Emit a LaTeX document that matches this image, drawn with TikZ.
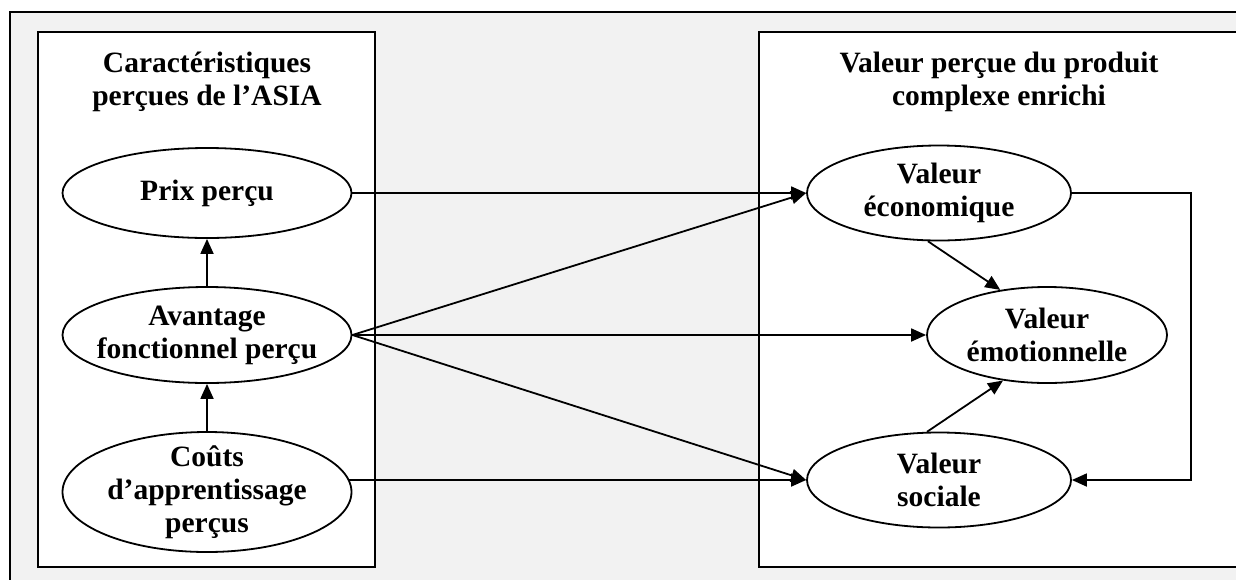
\documentclass[tikz,border=0pt]{standalone}
\usepackage{fontspec}
\setmainfont{Liberation Serif}
\usetikzlibrary{arrows.meta,shapes.geometric}
\definecolor{fond}{HTML}{F2F2F2}

\begin{document}
\begin{tikzpicture}[
    x=1pt, y=-1pt,
    txt/.style={font=\fontsize{29.5}{33}\selectfont\bfseries},
    bulle/.style={txt, draw, ellipse, line width=1.8pt, fill=white, align=center, inner xsep=-40pt, inner ysep=-20pt},
    titre/.style={txt, align=center, inner sep=0pt},
    cadre/.style={draw, line width=2.6pt, fill=white},
    fleche/.style={-{Triangle[length=15pt,width=13pt]}, line width=1.8pt}
]
\clip (0,0) rectangle (1236,579);
\fill[white] (0,0) rectangle (1236,579);
\draw[line width=2.6pt, fill=fond] (10,12) rectangle (1260,600);
\draw[cadre] (38,32) rectangle (375,567);
\draw[cadre] (759,32) rectangle (1260,567);

\node[titre] (titreA) at (207,82) {Caractéristiques\\perçues de l’ASIA};
\node[titre] (titreV) at (999,82) {Valeur perçue du produit\\complexe enrichi};

\node[bulle, minimum width=289pt, minimum height=90pt] (prix) at (207,193) {Prix perçu};
\node[bulle, minimum width=289pt, minimum height=96pt] (avantage) at (207,335) {Avantage\\fonctionnel perçu};
\node[bulle, minimum width=289pt, minimum height=120pt] (couts) at (207,492) {Coûts\\d’apprentissage\\perçus};
\node[bulle, minimum width=264pt, minimum height=95pt] (eco) at (939,193) {Valeur\\économique};
\node[bulle, minimum width=240pt, minimum height=96pt] (emo) at (1047,335) {Valeur\\émotionnelle};
\node[bulle, minimum width=264pt, minimum height=95pt] (soc) at (939,480) {Valeur\\sociale};
\coordinate (retour) at (1191,335);

\draw[fleche] (avantage) -- (prix);
\draw[fleche] (couts) -- (avantage);
\draw[fleche] (prix.east) -- (eco.west);
\draw[fleche] (avantage.east) -- (eco.west);
\draw[fleche] (avantage.east) -- (emo.west);
\draw[fleche] (avantage.east) -- (soc.west);
\draw[fleche] ([xshift=-3pt]couts.east |- soc.west) -- (soc.west);
\draw[fleche] (eco.257) -- (emo.136);
\draw[fleche] (soc.104) -- (emo.226);
\draw[fleche] (eco.east) -| (retour) |- (soc.east);
\end{tikzpicture}
\end{document}
